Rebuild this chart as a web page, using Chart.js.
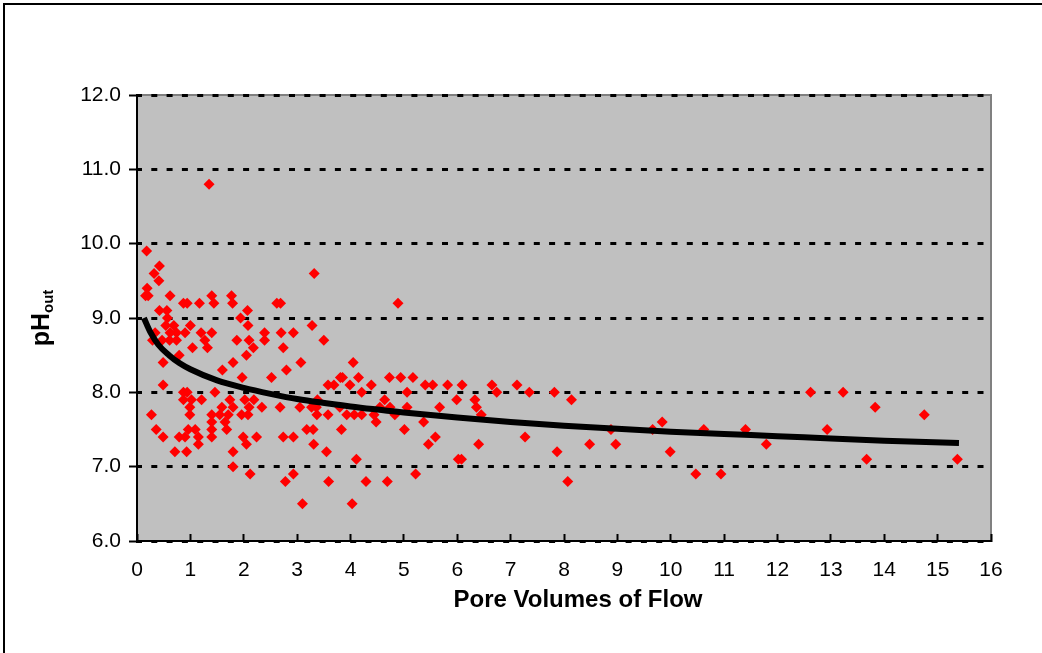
<!DOCTYPE html>
<html>
<head>
<meta charset="utf-8">
<script src="https://cdn.jsdelivr.net/npm/chart.js@4.4.1/dist/chart.umd.min.js"></script>
<style>
  html, body { margin: 0; padding: 0; background: #fff; }
</style>
</head>
<body>
<canvas id="phChart" width="1042" height="653"></canvas>
<script>
// measured samples: pore volumes of flow vs outlet pH
const poreVolumes = [
  1.35,0.18,0.42,0.32,0.41,0.19,0.16,0.21,0.62,0.87,0.94,1.17,1.40,1.44,1.77,1.79,2.62,2.69,2.07,1.94,
  2.08,0.42,0.56,0.57,0.54,0.69,1.00,0.34,0.62,0.74,0.90,1.20,1.40,2.39,2.70,2.93,0.29,0.47,0.61,0.74,
  1.27,1.87,2.10,2.39,1.32,1.04,2.18,2.74,0.79,2.05,
  0.49,1.80,3.07,2.80,1.60,2.52,1.97,0.49,0.87,0.94,1.46,0.87,1.02,1.21,1.74,2.02,2.19,0.99,1.59,1.80,
  2.10,2.34,2.68,0.99,0.27,1.40,1.55,1.71,1.96,2.08,1.40,1.65,1.40,1.68,0.36,0.96,1.09,0.49,0.79,0.90,
  1.15,1.40,1.99,2.24,2.74,2.93,1.15,2.05,0.71,0.93,1.80,1.80,2.12,2.93,2.78,3.10,
  3.32,4.89,3.28,3.50,4.05,3.58,3.69,3.81,3.85,3.99,4.15,4.39,4.21,4.73,4.94,5.17,5.40,5.54,5.82,6.09,
  6.65,6.74,5.06,5.99,6.33,4.64,3.38,3.05,3.27,3.36,3.80,4.55,4.74,5.06,5.67,6.36,3.37,3.58,3.93,4.07,
  4.21,4.44,4.83,6.45,4.48,5.37,3.18,3.30,3.83,5.01,3.31,5.46,5.59,6.40,3.55,4.11,6.02,6.08,3.59,4.29,
  4.69,5.22,4.03,
  7.12,7.35,7.82,8.14,7.27,7.87,8.07,8.48,8.97,8.88,9.66,9.84,9.99,10.62,10.47,10.94,
  11.40,11.79,12.62,13.23,13.83,12.93,13.67,14.75,15.37
];
const phOut = [
  10.8,9.9,9.7,9.6,9.5,9.4,9.3,9.3,9.3,9.2,9.2,9.2,9.3,9.2,9.3,9.2,9.2,9.2,9.1,9.0,
  8.9,9.1,9.1,9.0,8.9,8.9,8.9,8.8,8.8,8.8,8.8,8.8,8.8,8.8,8.8,8.8,8.7,8.7,8.7,8.7,
  8.7,8.7,8.7,8.7,8.6,8.6,8.6,8.6,8.5,8.5,
  8.4,8.4,8.4,8.3,8.3,8.2,8.2,8.1,8.0,8.0,8.0,7.9,7.9,7.9,7.9,7.9,7.9,7.8,7.8,7.8,
  7.8,7.8,7.8,7.7,7.7,7.7,7.7,7.7,7.7,7.7,7.6,7.6,7.5,7.5,7.5,7.5,7.5,7.4,7.4,7.4,
  7.4,7.4,7.4,7.4,7.4,7.4,7.3,7.3,7.2,7.2,7.2,7.0,6.9,6.9,6.8,6.5,
  9.6,9.2,8.9,8.7,8.4,8.1,8.1,8.2,8.2,8.1,8.2,8.1,8.0,8.2,8.2,8.2,8.1,8.1,8.1,8.1,
  8.1,8.0,8.0,7.9,7.9,7.9,7.9,7.8,7.8,7.8,7.8,7.8,7.8,7.8,7.8,7.8,7.7,7.7,7.7,7.7,
  7.7,7.7,7.7,7.7,7.6,7.6,7.5,7.5,7.5,7.5,7.3,7.3,7.4,7.3,7.2,7.1,7.1,7.1,6.8,6.8,
  6.8,6.9,6.5,
  8.1,8.0,8.0,7.9,7.4,7.2,6.8,7.3,7.3,7.5,7.5,7.6,7.2,7.5,6.9,6.9,
  7.5,7.3,8.0,8.0,7.8,7.5,7.1,7.7,7.1
];

// trend curve
const trendVolumes = [0.13,0.25,0.4,0.6,0.8,1,1.5,2,2.5,3,4,5,6,7,8,9,10,11,12,13,14,15.4];
const trendPh = [9.0,8.81,8.64,8.50,8.39,8.31,8.16,8.06,7.98,7.91,7.81,7.73,7.66,7.60,7.55,7.51,7.47,7.44,7.41,7.38,7.35,7.32];

const xRange = [0, 16];
const yRange = [6, 12];

const FONT = '"Liberation Sans", Arial, sans-serif';

const samplePoints = poreVolumes.map((v, i) => ({ x: v, y: phOut[i] }));
const trendPoints = trendVolumes.map((v, i) => ({ x: v, y: trendPh[i] }));

// plot background, frame and the axis titles
const frame = {
  id: 'frame',
  beforeDraw(chart) {
    const { ctx, chartArea: a } = chart;
    ctx.save();
    ctx.fillStyle = '#fff';
    ctx.fillRect(0, 0, chart.width, chart.height);
    ctx.strokeStyle = '#000';
    ctx.lineWidth = 2;
    ctx.strokeRect(4, 4, chart.width + 20, chart.height + 20);
    ctx.fillStyle = '#C0C0C0';
    ctx.fillRect(a.left, a.top, a.right - a.left, a.bottom - a.top);
    ctx.strokeStyle = '#808080';
    ctx.lineWidth = 2;
    ctx.beginPath();
    ctx.moveTo(a.left, a.top);
    ctx.lineTo(a.right, a.top);
    ctx.lineTo(a.right, a.bottom);
    ctx.stroke();
    ctx.restore();
  },
  afterDraw(chart) {
    const { ctx } = chart;
    ctx.save();
    ctx.fillStyle = '#000';
    // x title
    ctx.font = 'bold 24px ' + FONT;
    ctx.textAlign = 'center';
    ctx.textBaseline = 'middle';
    ctx.fillText('Pore Volumes of Flow', 578, 600);
    // y title with subscript
    ctx.translate(42, 318);
    ctx.rotate(-Math.PI / 2);
    ctx.textAlign = 'left';
    ctx.font = 'bold 25px ' + FONT;
    const w1 = ctx.measureText('pH').width;
    ctx.font = 'bold 15px ' + FONT;
    const w2 = ctx.measureText('out').width;
    const start = -(w1 + w2) / 2;
    ctx.font = 'bold 25px ' + FONT;
    ctx.fillText('pH', start, 0);
    ctx.font = 'bold 15px ' + FONT;
    ctx.fillText('out', start + w1, 7);
    ctx.restore();
  }
};

new Chart(document.getElementById('phChart'), {
  type: 'scatter',
  data: {
    datasets: [
      {
        label: 'Trend',
        data: trendPoints,
        showLine: true,
        borderColor: '#000',
        borderWidth: 6,
        pointRadius: 0,
        cubicInterpolationMode: 'monotone',
        order: 0
      },
      {
        label: 'pH out',
        data: samplePoints,
        pointStyle: 'rectRot',
        pointRadius: 5.5,
        pointBorderWidth: 0,
        backgroundColor: '#FF0000',
        borderColor: '#FF0000',
        order: 1
      }
    ]
  },
  options: {
    responsive: false,
    animation: false,
    events: [],
    layout: { padding: { left: 0, top: 95, right: 51, bottom: 0 } },
    plugins: {
      legend: { display: false },
      tooltip: { enabled: false }
    },
    scales: {
      x: {
        type: 'linear',
        min: xRange[0],
        max: xRange[1],
        afterFit: s => { s.height = 112; },
        ticks: {
          stepSize: 1,
          color: '#000',
          padding: 24,
          font: { family: FONT, size: 21 }
        },
        grid: {
          drawOnChartArea: false,
          drawTicks: true,
          tickLength: -7,
          tickColor: '#000',
          tickWidth: 2,
          color: '#000'
        },
        border: { display: true, color: '#000', width: 2 }
      },
      y: {
        type: 'linear',
        min: yRange[0],
        max: yRange[1],
        afterFit: s => { s.width = 137; },
        ticks: {
          stepSize: 1,
          color: '#000',
          padding: 8,
          font: { family: FONT, size: 21 },
          callback: v => v.toFixed(1)
        },
        grid: {
          color: '#000',
          lineWidth: 3,
          tickLength: 8,
          tickColor: '#000',
          tickWidth: 2,
          tickBorderDash: []
        },
        border: { display: true, color: '#000', width: 2, dash: [6, 9.3], dashOffset: 2 }
      }
    }
  },
  plugins: [frame]
});
</script>
</body>
</html>
